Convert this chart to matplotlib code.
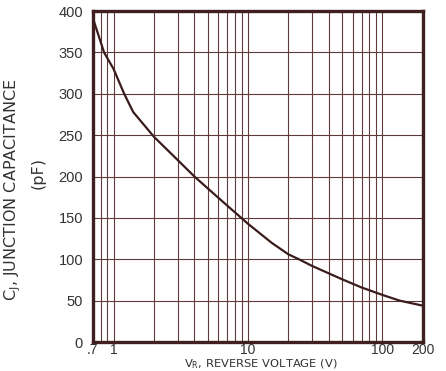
import matplotlib.pyplot as plt
from matplotlib.ticker import FixedLocator, FixedFormatter, NullLocator

plt.rcParams['font.family'] = ['DejaVu Sans']

# data
voltage = [0.7, 0.85, 1.0, 1.2, 1.4, 2, 3, 4, 5, 7, 10, 15, 20, 24, 30, 50, 70, 100, 135, 200]
capacitance = [392, 350, 330, 300, 278, 248, 220, 200, 186, 165, 143, 120, 106, 100, 92, 76, 66, 57, 50, 44]

x_ticks = [0.7, 1, 10, 100, 200]
x_tick_labels = ['.7', '1', '10', '100', '200']
x_grid = [0.8, 0.9, 1, 2, 3, 4, 5, 6, 7, 8, 9, 10, 20, 30, 40, 50, 60, 70, 80, 90, 100]
y_ticks = [0, 50, 100, 150, 200, 250, 300, 350, 400]

frame_col = '#3f1f1f'
grid_col = '#5e3a3a'
text_col = '#333333'

fig = plt.figure(figsize=(4.46, 3.71), dpi=100)
ax = fig.add_axes([0.208, 0.078, 0.740, 0.892])

ax.set_xscale('log')
ax.set_xlim(0.7, 200)
ax.set_ylim(0, 400)

for v in x_grid:
    ax.axvline(v, color=grid_col, lw=0.8, zorder=1)
for c in y_ticks[1:-1]:
    ax.axhline(c, color=grid_col, lw=0.8, zorder=1)

ax.plot(voltage, capacitance, color='#3a1c1c', lw=1.6, zorder=3)

ax.xaxis.set_major_locator(FixedLocator(x_ticks))
ax.xaxis.set_major_formatter(FixedFormatter(x_tick_labels))
ax.xaxis.set_minor_locator(NullLocator())
ax.set_yticks(y_ticks)
ax.tick_params(axis='both', length=0, labelsize=10.5, colors=text_col)
ax.tick_params(axis='y', pad=7)
ax.tick_params(axis='x', labelsize=10, pad=0.5)
for lab in ax.get_xticklabels() + ax.get_yticklabels():
    lab.set_fontfamily('Liberation Sans')

for s in ax.spines.values():
    s.set_color(frame_col)
    s.set_linewidth(2.4)

# axis titles placed like the reference
fig.text(0.029, 0.488, 'C$_\\mathregular{J}$, JUNCTION CAPACITANCE', rotation=90,
         ha='center', va='center', fontsize=11.5, color=text_col, family='DejaVu Sans')
fig.text(0.085, 0.534, '(pF)', rotation=90, ha='center', va='center',
         fontsize=11.5, color=text_col, family='DejaVu Sans')

# x title goes just under the tick labels, shrunk until it fits in the figure
fig.canvas.draw()
r = fig.canvas.get_renderer()
tick_bottom = min(t.get_window_extent(r).y0 for t in ax.get_xticklabels())
fs = 10.5
xlab = fig.text(0.585, (tick_bottom - 0.5) / fig.bbox.height, 'V$_\\mathregular{R}$, REVERSE VOLTAGE (V)',
                ha='center', va='top', fontsize=fs, color=text_col, family='DejaVu Sans')
while xlab.get_window_extent(r).y0 < 0 and fs > 7:
    fs -= 0.25
    xlab.set_fontsize(fs)

fig.savefig('out.png', dpi=100)
